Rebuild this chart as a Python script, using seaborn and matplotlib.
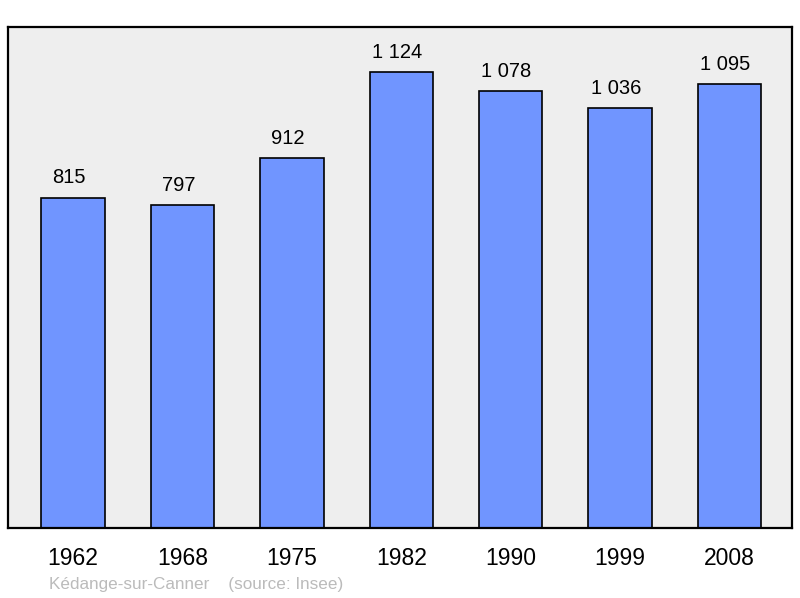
import matplotlib
matplotlib.use("Agg")
import matplotlib.pyplot as plt
import seaborn as sns
import pandas as pd

years = ["1962", "1968", "1975", "1982", "1990", "1999", "2008"]
population = [815, 797, 912, 1124, 1078, 1036, 1095]
commune = "Kédange-sur-Canner"
source = "(source: Insee)"

sns.set_theme(style="white")
plt.rcParams['font.family'] = ['Liberation Sans', 'DejaVu Sans']

df = pd.DataFrame({"year": years, "pop": population})

fig = plt.figure(figsize=(8, 5.98), dpi=100)
ax = fig.add_axes([0.01, 0.117, 0.98, 0.838])
ax.set_facecolor("#eeeeee")

sns.barplot(data=df, x="year", y="pop", color="#7095ff", saturation=1,
            width=0.58, edgecolor="black", linewidth=1.2, ax=ax)

ax.set_xlim(-0.594, 6.571)
ax.set_ylim(0, max(population) * 1.1)

# value labels sit a bit left of the bar centre, like the original
for i, v in enumerate(population):
    label = f"{v:,}".replace(",", " ")
    ax.annotate(label, (i, v), xytext=(-3, 7.5), textcoords="offset points",
                ha="center", va="bottom", fontsize=14.5, color="black")

ax.set_xlabel("")
ax.set_ylabel("")
ax.set_yticks([])
ax.tick_params(axis="x", length=0, pad=14, labelsize=16.5, colors="black")
for s in ax.spines.values():
    s.set_visible(True)
    s.set_color("black")
    s.set_linewidth(1.6)

fig.text(49 / 800, 1 - 584 / 598, commune + "    " + source, color="#bbbbbb",
         fontsize=12.3, ha="left", va="center")

fig.savefig("out.png", dpi=100)
